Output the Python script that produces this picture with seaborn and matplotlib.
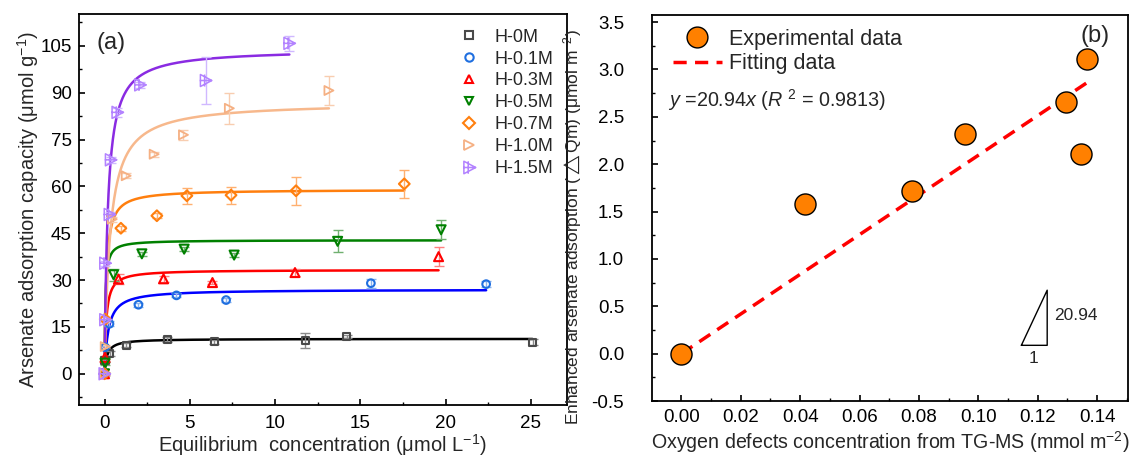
import numpy as np
import pandas as pd
import matplotlib
matplotlib.use("Agg")
import matplotlib.pyplot as plt
import seaborn as sns
from matplotlib.path import Path
from matplotlib.lines import Line2D
from matplotlib.ticker import MultipleLocator, FormatStrFormatter

# ---------------- data: panel (a) ----------------
series_names = ["H-0M", "H-0.1M", "H-0.3M", "H-0.5M", "H-0.7M", "H-1.0M", "H-1.5M"]

conc_h00 = [0.0, 0.03, 0.30, 1.27, 3.69, 6.43, 11.76, 14.2, 25.1]
q_h00 = [0.0, 4.3, 6.6, 9.1, 10.9, 10.2, 10.6, 11.9, 10.1]
err_h00 = [0.3, 0.5, 0.8, 0.6, 0.8, 0.6, 2.5, 0.5, 1.0]

conc_h01 = [0.0, 0.03, 0.29, 1.99, 4.22, 7.13, 15.62, 22.38]
q_h01 = [0.0, 8.5, 16.0, 22.1, 25.1, 23.6, 29.0, 28.7]
err_h01 = [0.3, 0.5, 0.8, 0.6, 0.6, 0.6, 1.5, 1.0]

conc_h03 = [0.0, 0.03, 0.82, 3.46, 6.33, 11.17, 19.59]
q_h03 = [0.0, 5.2, 30.3, 30.4, 29.2, 32.4, 37.5]
err_h03 = [0.3, 0.5, 1.5, 1.0, 0.6, 1.0, 3.0]

conc_h05 = [0.0, 0.03, 0.53, 2.19, 4.67, 7.60, 13.67, 19.74]
q_h05 = [0.0, 3.4, 31.7, 38.4, 39.9, 38.0, 42.4, 46.1]
err_h05 = [0.3, 0.5, 2.0, 0.6, 0.6, 0.6, 3.5, 3.0]

conc_h07 = [0.0, 0.04, 0.96, 3.07, 4.83, 7.42, 11.23, 17.58]
q_h07 = [0.0, 17.5, 46.6, 50.6, 57.0, 57.2, 58.6, 60.8]
err_h07 = [0.3, 0.8, 0.8, 0.8, 2.5, 2.7, 4.5, 4.5]

conc_h10 = [0.0, 0.04, 0.45, 1.27, 2.91, 4.63, 7.32, 13.16]
q_h10 = [0.0, 8.7, 49.5, 63.4, 70.3, 76.5, 85.0, 90.7]
err_h10 = [0.3, 0.5, 0.8, 0.8, 0.8, 1.5, 5.0, 4.5]

conc_h15 = [0.0, 0.04, 0.04, 0.30, 0.37, 0.76, 2.09, 5.94, 10.84]
q_h15 = [0.0, 17.3, 35.4, 51.0, 68.5, 83.7, 92.5, 93.9, 105.8]
err_h15 = [0.3, 0.8, 0.8, 0.8, 1.0, 1.5, 1.0, 7.5, 2.5]

# Langmuir fit parameters (qmax, K) and fitted range end
fit_qmax = [11.2, 27.0, 33.3, 42.8, 59.0, 87.0, 104.0]
fit_k = [6.9, 4.7, 10.0, 22.0, 10.0, 3.2, 5.3]
fit_cend = [25.1, 22.38, 19.59, 19.74, 17.58, 13.16, 10.84]

# ---------------- data: panel (b) ----------------
defects = [0.0, 0.0415, 0.0775, 0.0955, 0.1295, 0.1345, 0.1365]
delta_qm = [0.0, 1.58, 1.72, 2.32, 2.66, 2.11, 3.11]
fit_slope = 20.94
fit_r2 = 0.9813

# ---------------- style ----------------
sns.set_theme(style="ticks")
plt.rcParams["font.family"] = ["Liberation Sans", "DejaVu Sans"]
plt.rcParams["mathtext.fontset"] = "custom"
plt.rcParams["mathtext.rm"] = "Liberation Sans"
plt.rcParams["mathtext.it"] = "Liberation Sans:italic"
plt.rcParams["mathtext.fallback"] = "cm"
plt.rcParams["axes.linewidth"] = 1.3
for ax_ in ("xtick", "ytick"):
    plt.rcParams[f"{ax_}.major.width"] = 1.2
    plt.rcParams[f"{ax_}.minor.width"] = 1.0
    plt.rcParams[f"{ax_}.major.size"] = 4.5
    plt.rcParams[f"{ax_}.minor.size"] = 2.5
    plt.rcParams[f"{ax_}.color"] = "black"
    plt.rcParams[f"{ax_}.direction"] = "in"
plt.rcParams["axes.edgecolor"] = "black"

fig = plt.figure(figsize=(11.31, 4.57), dpi=100)
ax1 = fig.add_axes([0.0698, 0.1138, 0.4312, 0.8556])
ax2 = fig.add_axes([0.5765, 0.1225, 0.4208, 0.8445])

# custom marker: right triangle with cross
tri_cross = Path(
    [(-0.45, -0.5), (0.5, 0.0), (-0.45, 0.5), (-0.45, -0.5),
     (-0.5, 0.0), (0.5, 0.0), (-0.1, -0.5), (-0.1, 0.5)],
    [Path.MOVETO, Path.LINETO, Path.LINETO, Path.CLOSEPOLY,
     Path.MOVETO, Path.LINETO, Path.MOVETO, Path.LINETO])

marker_list = ["s", "o", "^", "v", "D", ">", tri_cross]
marker_sizes = [26, 30, 42, 42, 30, 42, 75]
marker_lw = [1.5, 1.5, 1.5, 1.5, 1.5, 1.3, 1.1]
marker_colors = ["#4a4a4a", "#1f6fe0", "#ff0000", "#008000", "#ff7f0e", "#f5b083", "#b383ff"]
line_colors = ["#000000", "#0000ff", "#ff0000", "#008000", "#ff7f0e", "#f7b88c", "#8a2be2"]
err_colors = ["#8a8a8a", "#8ab4ef", "#ff8080", "#70b070", "#ffb070", "#f8cdb0", "#d0b8ff"]

all_conc = [conc_h00, conc_h01, conc_h03, conc_h05, conc_h07, conc_h10, conc_h15]
all_q = [q_h00, q_h01, q_h03, q_h05, q_h07, q_h10, q_h15]
all_err = [err_h00, err_h01, err_h03, err_h05, err_h07, err_h10, err_h15]

for i, name in enumerate(series_names):
    cc = np.linspace(0, fit_cend[i], 600)
    qq = fit_qmax[i] * fit_k[i] * cc / (1 + fit_k[i] * cc)
    sns.lineplot(x=cc, y=qq, ax=ax1, color=line_colors[i], lw=1.8, zorder=2, sort=False)

for i, name in enumerate(series_names):
    ax1.errorbar(all_conc[i], all_q[i], yerr=all_err[i], fmt="none",
                 ecolor=err_colors[i], elinewidth=1.0, capsize=3.5, capthick=1.0, zorder=3)
    df = pd.DataFrame({"c": all_conc[i], "q": all_q[i]})
    sns.scatterplot(data=df, x="c", y="q", ax=ax1, marker=marker_list[i],
                    s=marker_sizes[i], facecolors="none", edgecolor=marker_colors[i],
                    linewidth=marker_lw[i], zorder=4)

ax1.set_xlim(-1.5, 27.1)
ax1.set_ylim(-10, 115.2)
ax1.xaxis.set_major_locator(MultipleLocator(5))
ax1.xaxis.set_minor_locator(MultipleLocator(2.5))
ax1.yaxis.set_major_locator(MultipleLocator(15))
ax1.yaxis.set_minor_locator(MultipleLocator(7.5))
ax1.tick_params(axis="both", which="both", labelsize=13.5, top=False, right=False)
ax1.tick_params(axis="y", pad=5)
ax1.tick_params(axis="x", pad=7)
ax1.set_xlabel("Equilibrium  concentration (μmol L$^{-1}$)", fontsize=14.5, labelpad=0)
ax1.set_ylabel("Arsenate adsorption capacity (μmol g$^{-1}$)", fontsize=14.5, labelpad=0)
ax1.text(0.035, 0.955, "(a)", transform=ax1.transAxes, fontsize=17, va="top", ha="left")

handles = [Line2D([0], [0], linestyle="none", marker=marker_list[i],
                  markersize=6 if i < 5 else (7 if i == 5 else 9),
                  markerfacecolor="none", markeredgecolor=marker_colors[i],
                  markeredgewidth=marker_lw[i])
           for i in range(len(series_names))]
ax1.legend(handles, series_names, loc="upper right", bbox_to_anchor=(0.995, 0.99), frameon=False,
           fontsize=13, handlelength=1.0, handletextpad=0.9, labelspacing=0.27, borderaxespad=0.2)

# ---------------- panel (b) ----------------
fit_x = np.array([0.0, defects[-1]])
fit_y = fit_slope * fit_x
sns.lineplot(x=fit_x, y=fit_y, ax=ax2, color="#ff0000", lw=2.5, zorder=2,
             dashes=False, linestyle=(0, (3.8, 2.4)))
sns.scatterplot(x=defects, y=delta_qm, ax=ax2, s=230, color="#ff8000",
                edgecolor="black", linewidth=1.0, zorder=3)

ax2.set_xlim(-0.0099, 0.1504)
ax2.set_ylim(-0.5, 3.574)
ax2.xaxis.set_major_locator(MultipleLocator(0.02))
ax2.xaxis.set_minor_locator(MultipleLocator(0.01))
ax2.yaxis.set_major_locator(MultipleLocator(0.5))
ax2.yaxis.set_minor_locator(MultipleLocator(0.25))
ax2.xaxis.set_major_formatter(FormatStrFormatter("%.2f"))
ax2.yaxis.set_major_formatter(FormatStrFormatter("%.1f"))
ax2.tick_params(axis="both", which="both", labelsize=13.5, top=False, right=False)
ax2.tick_params(axis="y", pad=20)
ax2.tick_params(axis="x", pad=6)
ax2.set_xlabel("Oxygen defects concentration from TG-MS (mmol m$^{-2}$)", fontsize=14.1, labelpad=2)
ax2.set_ylabel("Enhanced arsenate adsorption ($\\triangle$Qm) (μmol m$^{-2}$)", fontsize=12.5)
ax2.yaxis.set_label_coords(-0.142, 0.45)

h_exp = Line2D([0], [0], linestyle="none", marker="o", markersize=15,
               markerfacecolor="#ff8000", markeredgecolor="black", markeredgewidth=1.0)
h_fit = Line2D([0], [0], color="#ff0000", lw=2.5, linestyle=(0, (3.8, 2.4)))
ax2.legend([h_exp, h_fit], ["Experimental data", "Fitting data"], loc="upper left",
           bbox_to_anchor=(0.0, 1.018), frameon=False, fontsize=15.5, handlelength=2.27,
           handletextpad=0.33, labelspacing=0.15, borderaxespad=0.57)

ax2.text(0.033, 0.78, "$y$ =20.94$x$ ($R$ $^{2}$ = 0.9813)", transform=ax2.transAxes,
         fontsize=14.2, va="center", ha="left")
ax2.text(0.93, 0.975, "(b)", transform=ax2.transAxes, fontsize=17, va="top", ha="center")

tri_x = [0.1145, 0.1232, 0.1232, 0.1145]
tri_y = [0.088, 0.088, 0.67, 0.088]
ax2.plot(tri_x, tri_y, color="black", lw=1.0)
ax2.text(0.1255, 0.40, "20.94", fontsize=12.5, va="center", ha="left")
ax2.text(0.1185, 0.03, "1", fontsize=12.5, va="top", ha="center")

fig.savefig("out.png", dpi=100)
